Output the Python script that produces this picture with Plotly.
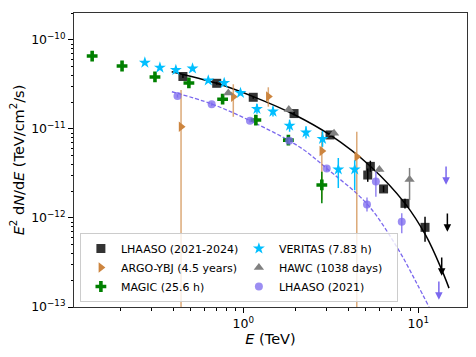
import numpy as np
import plotly.graph_objects as go

# ---- data (E in TeV, E^2 dN/dE in TeV/cm2/s) ----
lh24_e = [0.452, 0.705, 1.14, 1.95, 3.13, 5.32, 5.14, 6.33, 8.39, 10.92]
lh24_f = [3.89e-11, 3.26e-11, 2.27e-11, 1.49e-11, 8.57e-12, 3.80e-12, 3.04e-12, 2.12e-12, 1.46e-12, 7.85e-13]
lh24_hi = [4.05e-11, 3.38e-11, 2.35e-11, 1.55e-11, 9.0e-12, 4.4e-12, 3.6e-12, 2.3e-12, 1.65e-12, 1.035e-12]
lh24_lo = [3.73e-11, 3.14e-11, 2.19e-11, 1.43e-11, 8.15e-12, 3.3e-12, 2.55e-12, 1.95e-12, 1.28e-12, 5.42e-13]
lh24_ul_e = [14.65, 13.6]
lh24_ul_f = [1.17e-12, 3.74e-13]

argo_e = [0.441, 0.877, 1.39, 2.81, 4.45]
argo_f = [1.06e-11, 2.30e-11, 2.32e-11, 5.66e-12, 4.89e-12]
argo_hi = [2.74e-11, 3.18e-11, 2.94e-11, 9.33e-12, 9.33e-12]
argo_lo = [1e-14, 1.37e-11, 1.78e-11, 1.6e-12, 1e-14]

magic_e = [0.137, 0.203, 0.313, 0.489, 0.762, 1.18, 1.81, 2.81]
magic_f = [6.6e-11, 5.1e-11, 3.84e-11, 3.29e-11, 2.16e-11, 1.26e-11, 7.5e-12, 2.35e-12]
magic_hi = [6.9e-11, 5.3e-11, 4.0e-11, 3.45e-11, 2.26e-11, 1.33e-11, 8.0e-12, 3.3e-12]
magic_lo = [6.3e-11, 4.9e-11, 3.68e-11, 3.13e-11, 2.06e-11, 1.19e-11, 7.0e-12, 1.46e-12]

ver_e = [0.274, 0.334, 0.412, 0.513, 0.631, 0.778, 0.964, 1.197, 1.478, 1.839, 2.282, 2.836, 3.49, 4.33]
ver_f = [5.56e-11, 4.89e-11, 4.60e-11, 4.78e-11, 3.51e-11, 3.29e-11, 2.54e-11, 1.68e-11, 1.57e-11,
         1.09e-11, 9.14e-12, 7.73e-12, 3.51e-12, 3.51e-12]
ver_hi = [5.8e-11, 5.1e-11, 4.8e-11, 5.0e-11, 3.7e-11, 3.47e-11, 2.7e-11, 1.91e-11, 1.79e-11,
          1.27e-11, 1.07e-11, 9.5e-12, 4.72e-12, 4.45e-12]
ver_lo = [5.33e-11, 4.68e-11, 4.4e-11, 4.57e-11, 3.33e-11, 3.12e-11, 2.39e-11, 1.48e-11, 1.38e-11,
          9.3e-12, 7.8e-12, 6.3e-12, 2.17e-12, 2.05e-12]

hawc_e = [0.821, 1.82, 3.30, 5.99, 8.91]
hawc_f = [2.54e-11, 1.66e-11, 8.95e-12, 3.51e-12, 2.71e-12]
hawc_hi = [2.65e-11, 1.74e-11, 9.4e-12, 3.7e-12, 3.65e-12]
hawc_lo = [2.43e-11, 1.58e-11, 8.5e-12, 3.3e-12, 1.59e-12]

lh21_e = [0.421, 0.660, 1.092, 1.829, 2.997, 5.09, 5.72, 8.04]
lh21_f = [2.35e-11, 1.90e-11, 1.24e-11, 7.36e-12, 3.60e-12, 1.42e-12, 2.57e-12, 9.08e-13]
lh21_hi = [2.45e-11, 1.98e-11, 1.30e-11, 7.8e-12, 3.85e-12, 1.7e-12, 3.31e-12, 1.13e-12]
lh21_lo = [2.25e-11, 1.82e-11, 1.18e-11, 6.9e-12, 3.35e-12, 1.18e-12, 1.73e-12, 6.73e-13]
lh21_ul_e = [14.4, 13.1]
lh21_ul_f = [3.94e-12, 2.01e-13]

# model curves
fit24_e = [0.390, 0.705, 1.14, 1.974, 3.13, 5.30, 8.39, 11.07, 13.61, 14.97]
fit24_f = [4.40e-11, 3.26e-11, 2.31e-11, 1.437e-11, 8.57e-12, 3.84e-12, 1.46e-12, 6.28e-13, 2.61e-13, 1.63e-13]
fit21_e = [0.391, 0.660, 1.092, 2.109, 2.997, 5.09, 7.52, 9.79, 11.51]
fit21_f = [2.62e-11, 1.91e-11, 1.24e-11, 6.23e-12, 3.60e-12, 1.44e-12, 4.76e-13, 1.85e-13, 1.0e-13]


def errs(f, hi, lo):
    f = np.array(f)
    return dict(type='data', symmetric=False, array=np.array(hi) - f,
                arrayminus=f - np.array(lo), width=0, thickness=1.5)


fig = go.Figure()

fig.add_trace(go.Scatter(x=fit24_e, y=fit24_f, mode='lines', line_shape='spline',
                         line=dict(color='black', width=1.5), showlegend=False, hoverinfo='skip'))
fig.add_trace(go.Scatter(x=fit21_e, y=fit21_f, mode='lines', line_shape='spline',
                         line=dict(color='#7B68EE', width=1.3, dash='4px,2px'),
                         showlegend=False, hoverinfo='skip'))

series = [
    ('LHAASO (2021-2024)', lh24_e, lh24_f, lh24_hi, lh24_lo, 'square', 9, 'rgba(0,0,0,0.8)', 'black', 1),
    ('ARGO-YBJ (4.5 years)', argo_e, argo_f, argo_hi, argo_lo, 'triangle-right', 9, '#CD853F', 'rgba(205,133,63,0.7)', 3),
    ('MAGIC (25.6 h)', magic_e, magic_f, magic_hi, magic_lo, 'cross', 9, 'green', 'green', 5),
    ('VERITAS (7.83 h)', ver_e, ver_f, ver_hi, ver_lo, 'star', 9, '#00BFFF', '#00BFFF', 2),
    ('HAWC (1038 days)', hawc_e, hawc_f, hawc_hi, hawc_lo, 'triangle-up', 9, 'gray', 'gray', 4),
    ('LHAASO (2021)', lh21_e, lh21_f, lh21_hi, lh21_lo, 'circle', 8, 'rgba(123,104,238,0.75)', 'rgba(123,104,238,0.8)', 6),
]
for name, e, f, hi, lo, sym, size, col, ecol, rank in series:
    ey = errs(f, hi, lo)
    ey['color'] = ecol
    fig.add_trace(go.Scatter(x=e, y=f, mode='markers', name=name, legendrank=rank,
                             marker=dict(symbol=sym, size=size, color=col, line=dict(width=0)),
                             error_y=ey))

# upper limits as downward arrows
for ue, uf, c in [(lh24_ul_e, lh24_ul_f, 'black'), (lh21_ul_e, lh21_ul_f, '#7B68EE')]:
    for e, f in zip(ue, uf):
        fig.add_annotation(x=np.log10(e), y=np.log10(f * 0.6), ax=np.log10(e), ay=np.log10(f),
                           xref='x', yref='y', axref='x', ayref='y', text='', showarrow=True,
                           arrowhead=2, arrowsize=1, arrowwidth=1.5, arrowcolor=c)

xminor = [m * 10 ** k for k in (-1, 0, 1) for m in range(2, 10)]
yminor = [m * 10 ** k for k in (-13, -12, -11, -10) for m in range(2, 10)]

fig.update_xaxes(type='log', range=[-0.967, 1.278], tickvals=[1, 10],
                 ticktext=['10<sup>0</sup>', '10<sup>1</sup>'], ticks='outside', ticklen=5,
                 tickcolor='black', showline=True, linecolor='#333', linewidth=1, mirror=True,
                 showgrid=False, zeroline=False, automargin=False,
                 minor=dict(tickvals=xminor, ticks='outside', ticklen=2.5, tickcolor='black', showgrid=False),
                 title=dict(text='<i>E</i> (TeV)', font=dict(size=14.5), standoff=0),
                 tickfont=dict(size=12.5))
fig.update_yaxes(type='log', range=[-13, -9.697], tickvals=[1e-13, 1e-12, 1e-11, 1e-10],
                 ticktext=['10<sup>\u221213</sup>', '10<sup>\u221212</sup>', '10<sup>\u221211</sup>',
                           '10<sup>\u221210</sup>'], ticks='outside', ticklen=5,
                 tickcolor='black', showline=True, linecolor='#333', linewidth=1, mirror=True,
                 showgrid=False, zeroline=False, automargin=False,
                 minor=dict(tickvals=yminor, ticks='outside', ticklen=2.5, tickcolor='black', showgrid=False),
                 title=dict(text='<i>E</i><sup>2</sup> d<i>N</i>/d<i>E</i> (TeV/cm<sup>2</sup>/s)',
                            font=dict(size=14.5), standoff=3),
                 tickfont=dict(size=12.5))

# page body keeps an 8px margin, so the figure is sized to fit inside it
fig.update_layout(
    width=460, height=341,
    margin=dict(l=66, r=1, t=5, b=42, autoexpand=False),
    plot_bgcolor='white', paper_bgcolor='white',
    font=dict(family='DejaVu Sans', color='black'),
    legend=dict(orientation='h', x=0.015, y=0.017, xanchor='left', yanchor='bottom',
                entrywidth=113, bgcolor='rgba(255,255,255,0.8)', bordercolor='#cccccc',
                borderwidth=1, font=dict(size=11), traceorder='normal'),
)

fig.write_html("out.html")
